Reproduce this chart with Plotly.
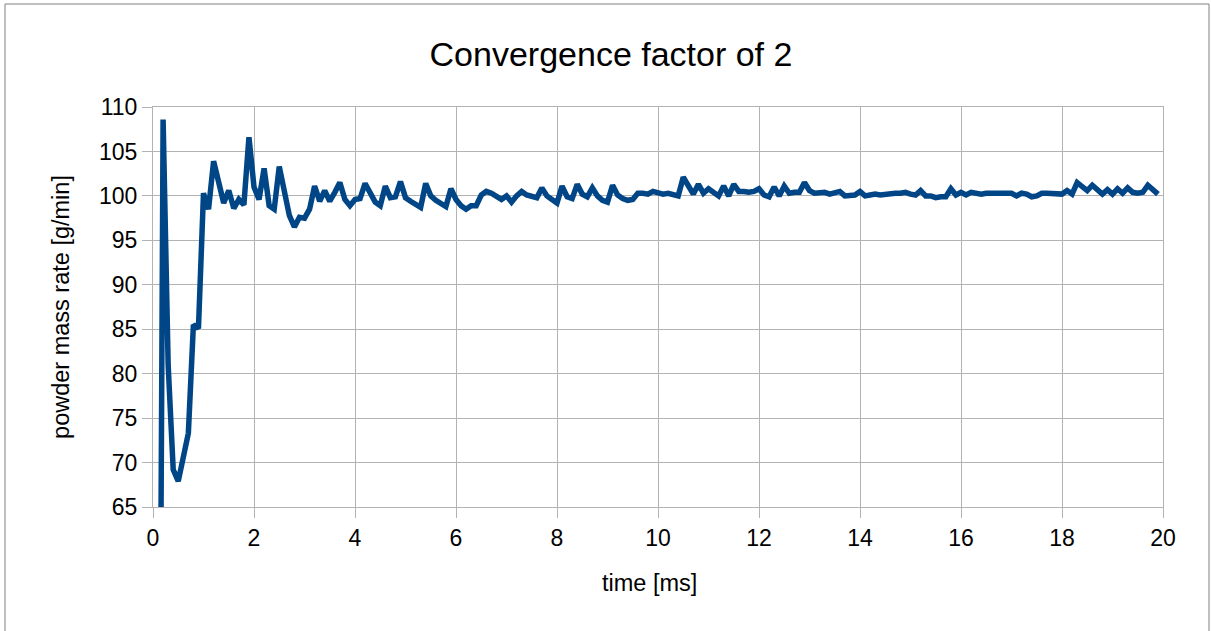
import plotly.graph_objects as go

# time [ms]
time_ms = [
    0.1, 0.2, 0.3, 0.4, 0.5, 0.6, 0.7, 0.8, 0.9, 1.0,
    1.1, 1.2, 1.3, 1.4, 1.5, 1.6, 1.7, 1.8, 1.9, 2.0,
    2.1, 2.2, 2.3, 2.4, 2.5, 2.6, 2.7, 2.8, 2.9, 3.0,
    3.1, 3.2, 3.3, 3.4, 3.5, 3.6, 3.7, 3.8, 3.9, 4.0,
    4.1, 4.2, 4.3, 4.4, 4.5, 4.6, 4.7, 4.8, 4.9, 5.0,
    5.1, 5.2, 5.3, 5.4, 5.5, 5.6, 5.7, 5.8, 5.9, 6.0,
    6.1, 6.2, 6.3, 6.4, 6.5, 6.6, 6.7, 6.8, 6.9, 7.0,
    7.1, 7.2, 7.3, 7.4, 7.5, 7.6, 7.7, 7.8, 7.9, 8.0,
    8.1, 8.2, 8.3, 8.4, 8.5, 8.6, 8.7, 8.8, 8.9, 9.0,
    9.1, 9.2, 9.3, 9.4, 9.5, 9.6, 9.7, 9.8, 9.9, 10.0,
    10.1, 10.2, 10.3, 10.4, 10.5, 10.6, 10.7, 10.8, 10.9, 11.0,
    11.1, 11.2, 11.3, 11.4, 11.5, 11.6, 11.7, 11.8, 11.9, 12.0,
    12.1, 12.2, 12.3, 12.4, 12.5, 12.6, 12.7, 12.8, 12.9, 13.0,
    13.1, 13.2, 13.3, 13.4, 13.5, 13.6, 13.7, 13.8, 13.9, 14.0,
    14.1, 14.2, 14.3, 14.4, 14.5, 14.6, 14.7, 14.8, 14.9, 15.0,
    15.1, 15.2, 15.3, 15.4, 15.5, 15.6, 15.7, 15.8, 15.9, 16.0,
    16.1, 16.2, 16.3, 16.4, 16.5, 16.6, 16.7, 16.8, 16.9, 17.0,
    17.1, 17.2, 17.3, 17.4, 17.5, 17.6, 17.7, 17.8, 17.9, 18.0,
    18.1, 18.2, 18.3, 18.4, 18.5, 18.6, 18.7, 18.8, 18.9, 19.0,
    19.1, 19.2, 19.3, 19.4, 19.5, 19.6, 19.7, 19.8, 19.9,
]

# powder mass rate [g/min]
mass_rate = [
    0.0, 108.6, 81.0, 69.2, 67.9, 70.5, 73.3, 85.5, 85.1, 100.3,
    98.5, 103.9, 101.3, 99.2, 100.6, 98.6, 99.6, 99.0, 106.6, 101.0,
    99.6, 103.1, 98.9, 98.5, 103.3, 100.6, 97.8, 96.5, 97.6, 97.5,
    98.5, 101.1, 99.4, 100.6, 99.4, 100.4, 101.5, 99.6, 98.9, 99.6,
    99.7, 101.4, 100.2, 99.3, 98.9, 101.1, 99.8, 99.9, 101.6, 99.8,
    99.4, 99.0, 98.7, 101.4, 100.0, 99.5, 99.2, 98.8, 100.8, 99.6,
    98.9, 98.5, 98.9, 98.9, 100.1, 100.5, 100.3, 100.0, 99.6, 100.0,
    99.3, 100.0, 100.5, 100.1, 99.9, 99.8, 100.9, 100.0, 99.6, 99.2,
    101.1, 99.9, 99.7, 101.3, 100.2, 99.9, 100.9, 100.0, 99.5, 99.3,
    101.2, 100.1, 99.7, 99.5, 99.6, 100.3, 100.3, 100.2, 100.5, 100.3,
    100.2, 100.3, 100.2, 100.0, 102.1, 101.0, 100.2, 101.3, 100.3, 100.8,
    100.3, 100.0, 101.1, 100.0, 101.3, 100.5, 100.5, 100.4, 100.5, 100.8,
    100.1, 99.9, 101.0, 100.0, 101.1, 100.3, 100.4, 100.4, 101.5, 100.6,
    100.3, 100.3, 100.4, 100.2, 100.4, 100.5, 100.0, 100.0, 100.1, 100.5,
    100.0, 100.1, 100.2, 100.1, 100.2, 100.3, 100.3, 100.3, 100.4, 100.2,
    100.1, 100.6, 100.0, 100.0, 99.8, 99.9, 99.9, 100.8, 100.1, 100.4,
    100.1, 100.4, 100.3, 100.2, 100.3, 100.3, 100.4, 100.4, 100.3, 100.3,
    100.0, 100.3, 100.2, 99.9, 100.0, 100.3, 100.3, 100.3, 100.2, 100.2,
    100.6, 100.2, 101.5, 101.0, 100.6, 101.2, 100.6, 100.2, 100.7, 100.2,
    100.8, 100.3, 100.9, 100.4, 100.3, 100.4, 101.2, 100.7, 100.2,
]

x_ticks = [0, 2, 4, 6, 8, 10, 12, 14, 16, 18, 20]
y_ticks = [65, 70, 75, 80, 85, 90, 95, 100, 105, 110]

FONT = "Liberation Sans"
GRID = "#b3b3b3"

fig = go.Figure()
fig.add_trace(go.Scatter(
    x=time_ms, y=mass_rate, mode="lines",
    line=dict(color="#004586", width=5.5),
    showlegend=False, hoverinfo="x+y",
))

fig.update_layout(
    width=1211, height=631,
    margin=dict(l=153, r=48, t=107, b=124),
    paper_bgcolor="white", plot_bgcolor="white",
    font=dict(family=FONT, color="black"),
    title=dict(text="Convergence factor of 2", x=611 / 1211, xanchor="center",
               y=1 - 54 / 631, yref="container", yanchor="middle",
               font=dict(family=FONT, size=34, color="black")),
    xaxis=dict(range=[0, 20], tickvals=x_ticks, ticktext=[str(v) for v in x_ticks],
               showgrid=True, gridcolor=GRID, gridwidth=1, zeroline=False,
               showline=True, mirror=True, linecolor=GRID, linewidth=1,
               ticks="outside", ticklen=10, tickcolor=GRID,
               tickfont=dict(family=FONT, size=23, color="black")),
    yaxis=dict(range=[65, 110], tickvals=y_ticks, ticktext=[str(v) for v in y_ticks],
               showgrid=True, gridcolor=GRID, gridwidth=1, zeroline=False,
               showline=True, mirror=True, linecolor=GRID, linewidth=1,
               ticks="outside", ticklen=10, tickcolor=GRID,
               tickfont=dict(family=FONT, size=23, color="black"),
               title=dict(text="powder mass rate [g/min]", standoff=22,
                          font=dict(family=FONT, size=23.5, color="black"))),
    annotations=[dict(text="time [ms]", xref="paper", yref="paper",
                      x=(649 - 153) / 1010, y=(507 - 583) / 400,
                      xanchor="center", yanchor="middle", showarrow=False,
                      font=dict(family=FONT, size=23.5, color="black"))],
    shapes=[dict(type="rect", xref="paper", yref="paper",
                 x0=(5 - 153) / 1010, x1=(1209 - 153) / 1010,
                 y0=(507 - 640) / 400, y1=(507 - 4) / 400,
                 line=dict(color="#808080", width=1), fillcolor="rgba(0,0,0,0)",
                 layer="below")],
)

fig.write_html("out.html")
